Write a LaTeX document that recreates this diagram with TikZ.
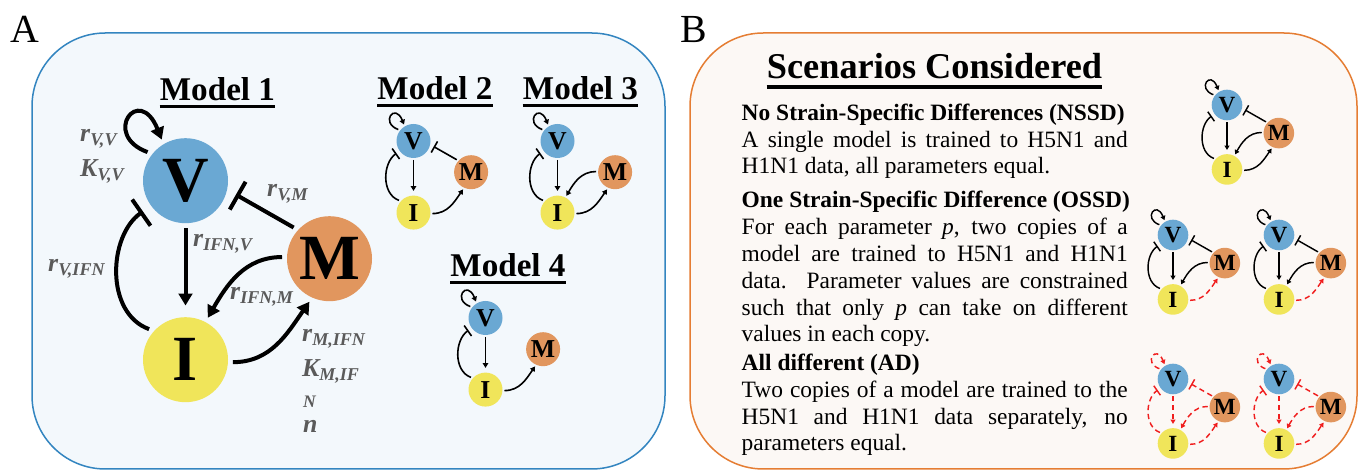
\documentclass[tikz,border=0pt]{standalone}
\usepackage{fontspec}
\setmainfont{Liberation Serif}
\usetikzlibrary{arrows.meta,calc}
\definecolor{azul}{HTML}{6AA8D3}
\definecolor{laranja}{HTML}{E1965E}
\definecolor{amarelo}{HTML}{F0E55A}
\definecolor{cinza}{HTML}{5A5A5A}
\definecolor{vermelho}{HTML}{F01E1E}
\definecolor{bordaA}{HTML}{3385C0}
\definecolor{fundoA}{HTML}{F3F8FC}
\definecolor{bordaB}{HTML}{E57D33}
\definecolor{fundoB}{HTML}{FCF8F5}
\newcommand{\rede}[3]{\def\escala{#3}
  \begin{scope}[shift={#2},scale=#3,transform shape]
    \node[no,fill=azul] (#1V) at (0,0) {V};
    \node[no,fill=amarelo] (#1I) at (0,-179) {I};
    \node[no,fill=laranja] (#1M) at (144,-78) {M};
  \end{scope}}
\newcommand{\laco}[2][]{\draw[ativa,#1] (#2V.143) to[out=160,in=112,out looseness=6.7,in looseness=8.2] (#2V.120);}
\newcommand{\ligvi}[2][]{\draw[ativa,shorten >=\escala*2mm,#1] (#2V) -- (#2I);}
\newcommand{\ligiv}[2][]{\draw[inibe,#1] (#2I.140) to[out=160,in=215] (#2V.216);}
\newcommand{\ligmv}[2][]{\draw[inibe,#1] (#2M.139) -- (#2V.-14);}
\newcommand{\ligmi}[2][]{\draw[ativa,#1] (#2M.178) to[out=180,in=60] (#2I.62);}
\newcommand{\ligim}[2][]{\draw[ativa,#1] (#2I.-3) to[out=0,in=235] (#2M.245);}
\newcommand{\linha}[1]{\makebox[115.8mm][s]{#1}}

\begin{document}
\begin{tikzpicture}[x=0.3mm,y=0.3mm,
    no/.style={circle,minimum size=25.5mm,inner sep=0pt,outer sep=1.5mm,font=\bfseries\fontsize{55}{55}\selectfont},
    liga/.style={line width=\escala*1.2mm},
    ativa/.style={liga,-{Triangle[length=0pt 3,width=0pt 3.4]}},
    inibe/.style={liga,-{Bar[width=0pt 8]},shorten >=\escala*1.5mm},
    tracejado/.style={vermelho,dash pattern=on 1.6mm off 1.1mm},
    titulo/.style={anchor=base,inner sep=0pt,font=\bfseries\fontsize{28.3}{30}\selectfont},
    sublinha/.style={line width=0.9mm},
    rotulo/.style={anchor=base west,inner sep=0pt,text=cinza,font=\bfseries\itshape\fontsize{22}{24}\selectfont},
    texto/.style={anchor=base west,align=left,inner sep=0pt,font=\fontsize{20}{23}\selectfont},
    letra/.style={anchor=base west,inner sep=0pt,font=\fontsize{34}{36}\selectfont}]
  \useasboundingbox (0,0) rectangle (1363,470);
  \draw[bordaA,fill=fundoA,line width=0.45mm,rounded corners=22mm] (32,1) rectangle (665,437);
  \draw[bordaB,fill=fundoB,line width=0.45mm,rounded corners=22mm] (690,1) rectangle (1357,437);
  \node[letra] (letraA) at (10,427) {A};
  \node[letra] (letraB) at (680,427) {B};

  % painel A
  \node[titulo] (t1) at (217.5,369) {Model 1};
  \node[titulo] (t2) at (435,370) {Model 2};
  \node[titulo] (t3) at (580.5,370) {Model 3};
  \node[titulo] (t4) at (508,193) {Model 4};
  \foreach \t in {t1,t2,t3,t4}
    \draw[sublinha] ([yshift=-1.8mm]\t.base west) -- ([yshift=-1.8mm]\t.base east);

  \rede{a}{(185.5,289.3)}{1}
  \laco{a} \ligvi{a} \ligiv{a} \ligmv{a} \ligmi{a} \ligim{a}
  \node[rotulo] (rvv) at (80,328) {r\textsubscript{V,V}};
  \node[rotulo] (kvv) at (80,293) {K\textsubscript{V,V}};
  \node[rotulo] (rifnv) at (193,223) {r\textsubscript{IFN,V}};
  \node[rotulo] (rvifn) at (48,198) {r\textsubscript{V,IFN}};
  \node[rotulo] (rvm) at (267,273) {r\textsubscript{V,M}};
  \node[rotulo] (rifnm) at (230,170) {r\textsubscript{IFN,M}};
  \node[rotulo] (rmifn) at (302,128) {r\textsubscript{M,IFN}};
  \node[rotulo] (kmif) at (302,93) {K\textsubscript{M,IF}};
  \node[rotulo,font=\bfseries\itshape\fontsize{15}{16}\selectfont] (kmifn) at (303,62) {N};
  \node[rotulo] (hill) at (303,37) {n};

  \rede{b}{(413.5,329)}{0.4}
  \laco{b} \ligvi{b} \ligiv{b} \ligmv{b} \ligim{b}
  \rede{c}{(557.5,329)}{0.4}
  \laco{c} \ligvi{c} \ligiv{c} \ligmi{c} \ligim{c}
  \rede{d}{(485.5,152)}{0.4}
  \laco{d} \ligvi{d} \ligiv{d} \ligim{d}

  % painel B
  \node[titulo,font=\bfseries\fontsize{31}{33}\selectfont] (cenarios) at (934.5,391) {Scenarios Considered};
  \draw[line width=1mm] ([yshift=-2.4mm]cenarios.base west) -- ([yshift=-2.4mm]cenarios.base east);
  \node[texto] (nssd) at (741.5,296) {\textbf{No Strain-Specific Differences (NSSD)}\\
    \linha{A single model is trained to H5N1 and}\\
    H1N1 data, all parameters equal.};
  \node[texto] (ossd) at (741.5,128) {\textbf{One Strain-Specific Difference (OSSD)}\\
    \linha{For each parameter \textit{p}, two copies of a}\\
    \linha{model are trained to H5N1 and H1N1}\\
    \linha{data. Parameter values are constrained}\\
    \linha{such that only \textit{p} can take on different}\\
    values in each copy.};
  \node[texto] (ad) at (741.5,19) {\textbf{All different (AD)}\\
    \linha{Two copies of a model are trained to the}\\
    \linha{H5N1 and H1N1 data separately, no}\\
    parameters equal.};

  \rede{e}{(1227,365)}{0.36}
  \laco{e} \ligvi{e} \ligiv{e} \ligmv{e} \ligmi{e} \ligim{e}
  \foreach \r/\p in {f/1173,g/1279}{
    \rede{\r}{(\p,235)}{0.36}
    \laco{\r} \ligvi{\r} \ligiv{\r} \ligmv{\r} \ligmi{\r} \ligim[tracejado]{\r}
  }
  \foreach \r/\p in {h/1173,k/1279}{
    \rede{\r}{(\p,91)}{0.36}
    \laco[tracejado]{\r} \ligvi[tracejado]{\r} \ligiv[tracejado]{\r}
    \ligmv[tracejado]{\r} \ligmi[tracejado]{\r} \ligim[tracejado]{\r}
  }
\end{tikzpicture}
\end{document}
